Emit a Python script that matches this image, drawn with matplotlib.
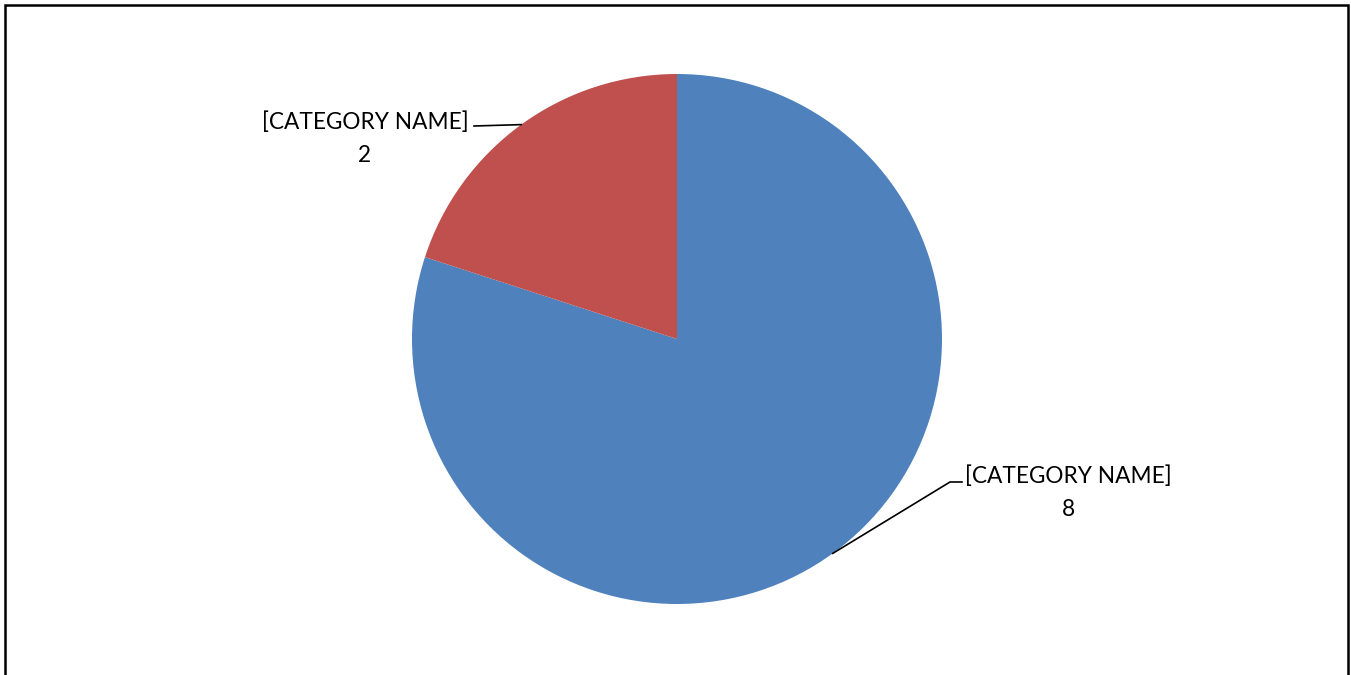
import numpy as np
import matplotlib
matplotlib.use("Agg")
import matplotlib.pyplot as plt
from matplotlib.lines import Line2D

# Chart data
categories = ["[CATEGORY NAME]", "[CATEGORY NAME]"]
values = [8, 2]
colors = ["#4F81BD", "#C0504D"]

W, H = 1351, 675
fig = plt.figure(figsize=(W / 100, H / 100), dpi=100)
ax = fig.add_axes([0, 0, 1, 1])
ax.set_xlim(0, W)
ax.set_ylim(0, H)
ax.set_aspect("equal")
ax.axis("off")

cx, cy, r = 677, H - 339, 265
wedges, _ = ax.pie(values, colors=colors, startangle=90, counterclock=False,
                   center=(cx, cy), radius=r, frame=True,
                   wedgeprops=dict(linewidth=0))
ax.set_xlim(0, W)
ax.set_ylim(0, H)
ax.axis("off")

font = dict(family=["Lato", "DejaVu Sans"], fontsize=16.3, color="black")

# label anchor positions (text centre) and leader elbow points
label_pos = [(1068, H - 493), (365, H - 139)]
elbows = [[(950, H - 482), (962, H - 482)], [(474, H - 126)]]

for w, cat, val, (tx, ty), elbow in zip(wedges, categories, values, label_pos, elbows):
    mid = np.deg2rad((w.theta1 + w.theta2) / 2)
    ex, ey = cx + r * np.cos(mid), cy + r * np.sin(mid)
    pts = [(ex, ey)] + elbow
    xs, ys = zip(*pts)
    ax.add_line(Line2D(xs, ys, color="black", lw=1.2))
    ax.text(tx, ty, f"{cat}\n{val}", ha="center", va="center",
            linespacing=1.72, **font)

# outer chart border (open at the bottom)
ax.add_line(Line2D([5, 5, 1347.5, 1347.5], [-5, H - 4.5, H - 4.5, -5],
                   color="black", lw=1.8, solid_joinstyle="miter", clip_on=False))

fig.savefig("out.png", dpi=100)
